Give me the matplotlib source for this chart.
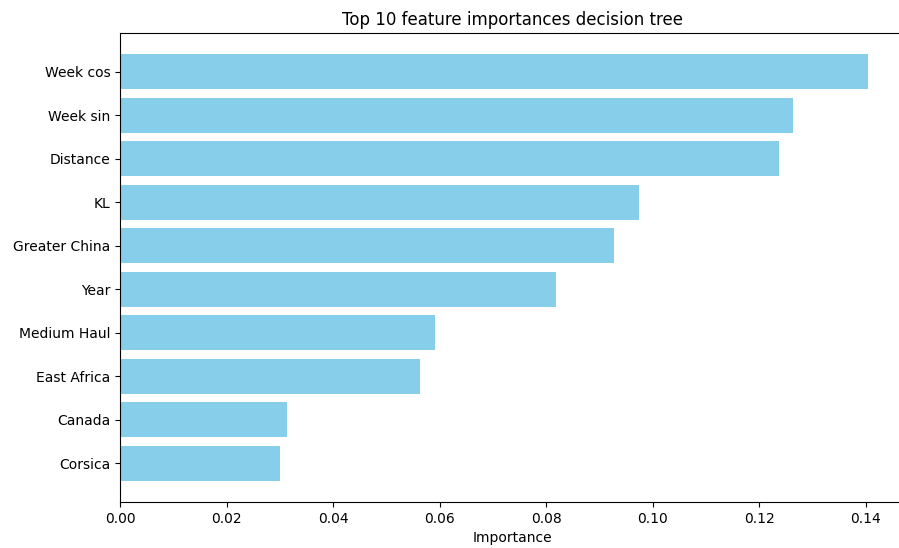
import matplotlib
matplotlib.use("Agg")
import matplotlib.pyplot as plt

features = ["Week cos", "Week sin", "Distance", "KL", "Greater China",
            "Year", "Medium Haul", "East Africa", "Canada", "Corsica"]
importances = [0.1404, 0.1263, 0.1237, 0.0974, 0.0927,
               0.0818, 0.0591, 0.0563, 0.0313, 0.0300]

fig = plt.figure(figsize=(8.99, 5.48), dpi=100)
ax = fig.add_axes([0.1335, 0.0839, 0.8732, 0.8559])

# most important feature on top
ax.barh(features[::-1], importances[::-1], color="skyblue")
ax.set_xlim(0, 0.1474)
ax.set_xlabel("Importance")
ax.set_title("Top 10 feature importances decision tree")

fig.savefig("out.png", dpi=100)
